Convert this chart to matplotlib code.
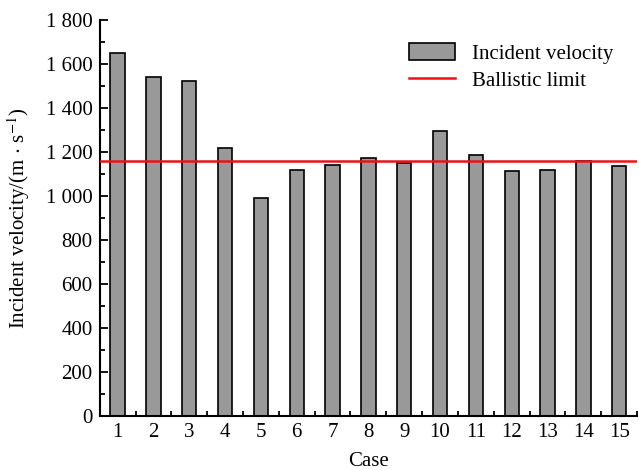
import matplotlib
matplotlib.use("Agg")
import matplotlib.pyplot as plt
from matplotlib.ticker import MultipleLocator

cases = list(range(1, 16))
velocity = [1650, 1540, 1525, 1220, 990, 1120, 1140, 1175, 1150, 1295, 1185, 1115, 1118, 1160, 1136]
ballistic_limit = 1160
y_ticks = [0, 200, 400, 600, 800, 1000, 1200, 1400, 1600, 1800]
y_tick_labels = ["0", "200", "400", "600", "800", "1 000", "1 200", "1 400", "1 600", "1 800"]

plt.rcParams['font.family'] = ['Liberation Serif', 'DejaVu Serif']
plt.rcParams['mathtext.fontset'] = 'stix'

fig = plt.figure(figsize=(6.39, 4.70), dpi=100)
ax = fig.add_axes([0.156, 0.115, 0.841, 0.842])

bars = ax.bar(cases, velocity, width=0.4, color='#999999', edgecolor='black', linewidth=1.2,
              label='Incident velocity', zorder=2)
line = ax.axhline(ballistic_limit, color='#ee1111', linewidth=1.8, label='Ballistic limit', zorder=3)

ax.set_xlim(0.5, 15.5)
ax.set_ylim(0, 1800)
ax.set_xticks(cases)
ax.set_xticklabels([str(c) for c in cases])
ax.xaxis.set_minor_locator(MultipleLocator(0.5))
ax.set_yticks(y_ticks)
ax.set_yticklabels(y_tick_labels)
ax.yaxis.set_minor_locator(MultipleLocator(100))

for s in ['top', 'right']:
    ax.spines[s].set_visible(False)
for s in ['left', 'bottom']:
    ax.spines[s].set_linewidth(1.5)

ax.tick_params(axis='both', which='major', direction='in', length=6, width=1.3, labelsize=15, pad=5)
ax.tick_params(axis='both', which='minor', direction='in', length=3.5, width=1.3)

ax.set_xlabel('Case', fontsize=15, labelpad=7)
ax.set_ylabel(r'Incident velocity/(m$\,\cdot\,$s$^{-1}$)', fontsize=15, labelpad=10)

ax.legend([bars, line], ['Incident velocity', 'Ballistic limit'],
          loc='upper right', bbox_to_anchor=(0.99, 0.99), frameon=False, fontsize=15,
          handlelength=2.2, handleheight=0.9, labelspacing=0.3, handletextpad=0.8)

fig.savefig('out.png', dpi=100)
